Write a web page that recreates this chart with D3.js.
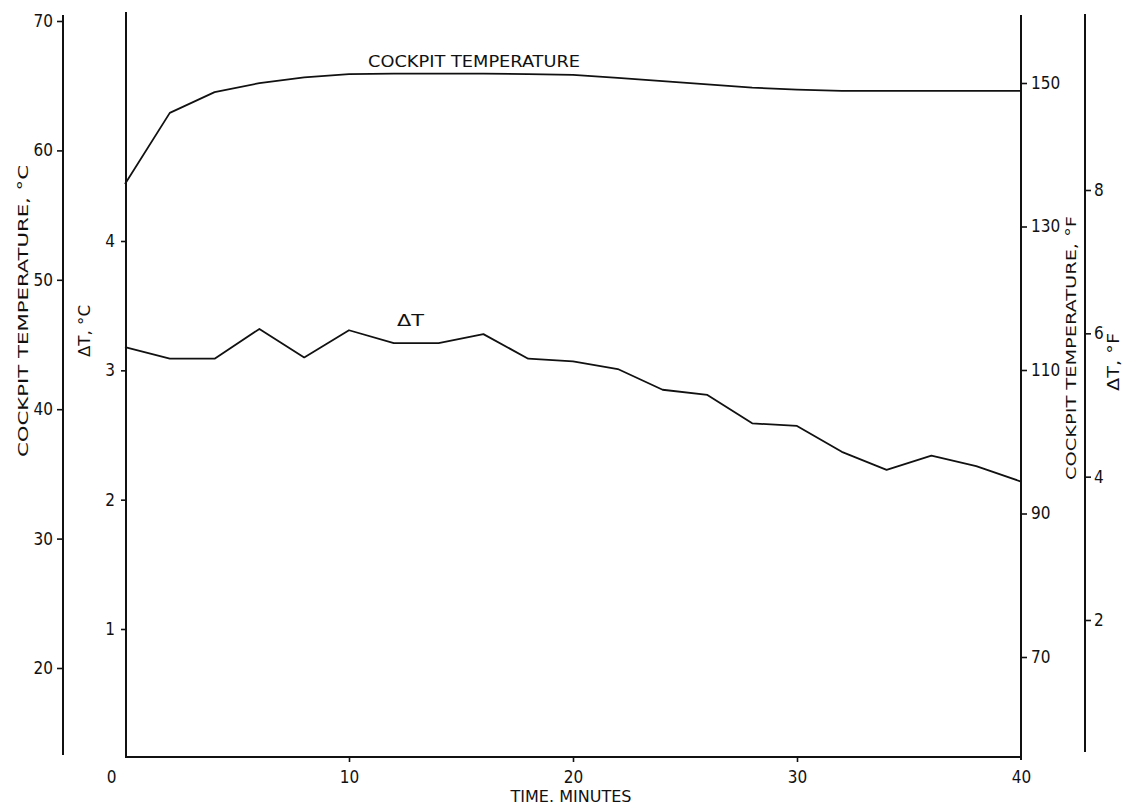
<!DOCTYPE html>
<html>
<head>
<meta charset="utf-8">
<script src="https://cdn.jsdelivr.net/npm/d3@7"></script>
<style>
  html, body { margin: 0; padding: 0; background: #fff; }
  svg { display: block; }
  text { font-family: "Liberation Sans Narrow", "DejaVu Sans Condensed", "Liberation Sans", sans-serif; fill: #111; }
</style>
</head>
<body>
<svg id="chart" width="1124" height="806"></svg>
<script>
// ---- data ----
const minutes = [0, 2, 4, 6, 8, 10, 12, 14, 16, 18, 20, 22, 24, 26, 28, 30, 32, 34, 36, 38, 40];
const cockpitTempC = [57.4, 62.9, 64.5, 65.2, 65.65, 65.9, 65.93, 65.93, 65.93, 65.9, 65.83, 65.6, 65.36, 65.1, 64.85, 64.7, 64.6, 64.6, 64.6, 64.6, 64.6];
const deltaTC = [3.18, 3.09, 3.09, 3.32, 3.10, 3.31, 3.21, 3.21, 3.28, 3.09, 3.07, 3.01, 2.85, 2.81, 2.59, 2.57, 2.37, 2.23, 2.34, 2.26, 2.14];

const xTicks = [0, 10, 20, 30, 40];
const cockpitCTicks = [20, 30, 40, 50, 60, 70];
const deltaCTicks = [1, 2, 3, 4];
const cockpitFTicks = [70, 90, 110, 130, 150];
const deltaFTicks = [2, 4, 6, 8];

const labels = {
  x: "TIME. MINUTES",
  cockpitC: "COCKPIT TEMPERATURE, \u00B0C",
  deltaC: "\u0394T, \u00B0C",
  cockpitF: "COCKPIT TEMPERATURE, \u00B0F",
  deltaF: "\u0394T, \u00B0F",
  cockpitSeries: "COCKPIT TEMPERATURE",
  deltaSeries: "\u0394T"
};

// ---- scales ----
const x = d3.scaleLinear().domain([0, 40]).range([125, 1021]);
const yC = d3.scaleLinear().domain([20, 70]).range([668, 21]);
const yD = d3.scaleLinear().domain([1, 4]).range([629, 241]);
const yCF = d3.scaleLinear().domain([70, 150]).range([657, 83]);
const yDF = d3.scaleLinear().domain([2, 8]).range([620, 190]);

const svg = d3.select("#chart");
const ink = "#111";
const FONT = '"Liberation Sans Narrow", "DejaVu Sans Condensed", "Liberation Sans", sans-serif';

function styleAxis(g, fontSize) {
  g.select(".domain").remove();
  g.selectAll(".tick line").attr("stroke", ink).attr("stroke-width", 1.6);
  g.selectAll(".tick text").attr("font-size", fontSize).attr("fill", ink).style("font-family", FONT);
}
function vline(xp, y1, y2, w) {
  svg.append("line").attr("x1", xp).attr("x2", xp).attr("y1", y1).attr("y2", y2)
    .attr("stroke", ink).attr("stroke-width", w || 2);
}

// axis lines
vline(63, 15, 755, 2);
vline(126, 12, 757, 2);
vline(1021, 15, 760, 2);
vline(1085, 14, 752, 2);
svg.append("line").attr("x1", 125).attr("x2", 1021).attr("y1", 757).attr("y2", 757)
  .attr("stroke", ink).attr("stroke-width", 2);

// outer left: cockpit °C
svg.append("g").attr("transform", "translate(63,0)")
  .call(d3.axisLeft(yC).tickValues(cockpitCTicks).tickSize(6).tickPadding(4).tickFormat(d3.format("d")))
  .call(g => styleAxis(g, 17));

// inner left: delta °C
svg.append("g").attr("transform", "translate(126,0)")
  .call(d3.axisLeft(yD).tickValues(deltaCTicks).tickSize(5).tickPadding(6).tickFormat(d3.format("d")))
  .call(g => styleAxis(g, 17));

// right: cockpit °F
svg.append("g").attr("transform", "translate(1021,0)")
  .call(d3.axisRight(yCF).tickValues(cockpitFTicks).tickSize(6).tickPadding(4).tickFormat(d3.format("d")))
  .call(g => styleAxis(g, 17));

// far right: delta °F
svg.append("g").attr("transform", "translate(1085,0)")
  .call(d3.axisRight(yDF).tickValues(deltaFTicks).tickSize(6).tickPadding(3).tickFormat(d3.format("d")))
  .call(g => styleAxis(g, 17));

// bottom: time
const xg = svg.append("g").attr("transform", "translate(0,757)")
  .call(d3.axisBottom(x).tickValues(xTicks).tickSize(5).tickPadding(9).tickFormat(d3.format("d")))
  .call(g => styleAxis(g, 17));
xg.selectAll(".tick").filter(d => d === 0 || d === 40).select("line").remove();
xg.selectAll(".tick").filter(d => d === 0).select("text").attr("dx", -14);

// axis titles
svg.append("text").attr("transform", "translate(28,311) rotate(-90)")
  .attr("text-anchor", "middle").attr("font-size", 14)
  .attr("textLength", 292).attr("lengthAdjust", "spacingAndGlyphs").text(labels.cockpitC);
svg.append("text").attr("transform", "translate(90,331) rotate(-90)")
  .attr("text-anchor", "middle").attr("font-size", 15)
  .attr("textLength", 52).attr("lengthAdjust", "spacingAndGlyphs").text(labels.deltaC);
svg.append("text").attr("transform", "translate(1076,348) rotate(-90)")
  .attr("text-anchor", "middle").attr("font-size", 14)
  .attr("textLength", 264).attr("lengthAdjust", "spacingAndGlyphs").text(labels.cockpitF);
svg.append("text").attr("transform", "translate(1119,362) rotate(-90)")
  .attr("text-anchor", "middle").attr("font-size", 15)
  .attr("textLength", 58).attr("lengthAdjust", "spacingAndGlyphs").text(labels.deltaF);
svg.append("text").attr("x", 571).attr("y", 802)
  .attr("text-anchor", "middle").attr("font-size", 15)
  .attr("textLength", 121).attr("lengthAdjust", "spacingAndGlyphs").text(labels.x);

// series lines
const lineC = d3.line().x((d, i) => x(minutes[i])).y(d => yC(d));
const lineD = d3.line().x((d, i) => x(minutes[i])).y(d => yD(d));
svg.append("path").datum(cockpitTempC).attr("d", lineC)
  .attr("fill", "none").attr("stroke", ink).attr("stroke-width", 1.8).attr("stroke-linejoin", "round");
svg.append("path").datum(deltaTC).attr("d", lineD)
  .attr("fill", "none").attr("stroke", ink).attr("stroke-width", 1.8).attr("stroke-linejoin", "round");

// series labels
svg.append("text").attr("x", 368).attr("y", 67).attr("font-size", 15)
  .attr("textLength", 212).attr("lengthAdjust", "spacingAndGlyphs").text(labels.cockpitSeries);
svg.append("text").attr("x", 397).attr("y", 326).attr("font-size", 16)
  .attr("textLength", 27).attr("lengthAdjust", "spacingAndGlyphs").text(labels.deltaSeries);
</script>
</body>
</html>
